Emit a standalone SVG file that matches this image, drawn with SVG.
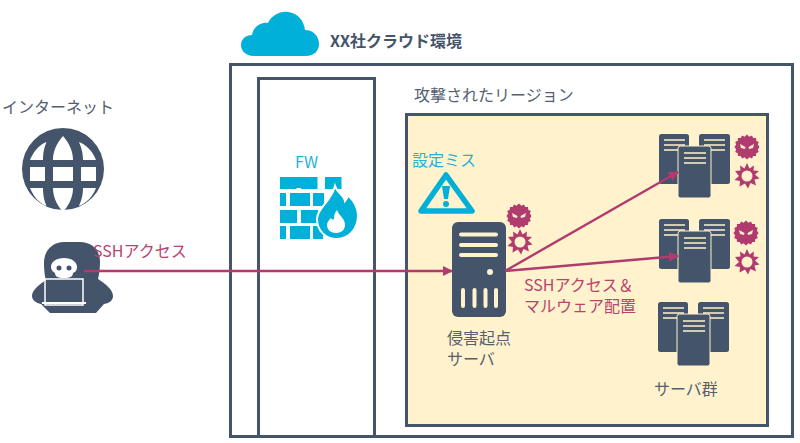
<svg xmlns="http://www.w3.org/2000/svg" xmlns:xlink="http://www.w3.org/1999/xlink" width="800" height="443" viewBox="0 0 800 443">
<style>
text{font-family:"Noto Sans CJK JP","Noto Sans",sans-serif}
.frame{fill:#fff;stroke:#44546a;stroke-width:3}
.dk{fill:#44546a}.cy{fill:#00b0d8}.mg{fill:#b13a6e}.cream{fill:#fff2cc}
.t{font-size:16px;fill:#55606f}
.c{font-size:16px;fill:#1fb4d8}
.m{font-size:16px;fill:#b9436f}
.conn{stroke:#b13a6e;stroke-width:2.4;fill:none;marker-end:url(#a)}
</style>
<defs>
<marker id="a" markerUnits="userSpaceOnUse" markerWidth="10" markerHeight="10" refX="9" refY="5" orient="auto"><path d="M0 0L10 5L0 10Z" fill="#b13a6e"/></marker>
<g id="rack">
<rect x="0" y="0" width="30" height="50" rx="2.5" class="dk"/><rect x="40" y="0" width="31" height="50" rx="2.5" class="dk"/>
<path d="M5 6H26M5 11H26M5 16H26M45 6H66M45 11H66M45 16H66" stroke="#fff2cc" stroke-width="1.6"/>
<rect x="19" y="12" width="33" height="52" rx="2.5" class="dk" stroke="#fff2cc" stroke-width="1"/>
<path d="M25 19H47M25 24H47M25 29H47" stroke="#fff2cc" stroke-width="1.6"/>
</g>
<g id="vface"><path d="M0-12.500L2.400-10.300 5-11.500 6.200-9 9-9 9.200-6.300 11.800-5 10.800-2.500 12.500 0 10.800 2.500 11.800 5 9.200 6.300 9 9 6.200 9 5 11.500 2.400 10.300 0 12.500-2.400 10.300-5 11.500-6.200 9-9 9-9.200 6.300-11.800 5-10.800 2.500-12.500 0-10.800-2.500-11.800-5-9.200-6.300-9-9-6.200-9-5-11.500-2.400-10.300Z" class="mg"/><path d="M-7-3L-1.500 0-2 2-6 1ZM7-3L1.500 0 2 2 6 1Z" fill="#fff2cc"/></g>
<g id="vburst"><path d="M0-13L2.500-7.500 7-10.500 6.500-5.500 12-5 8-1.500 12.500 2.500 7.500 3.500 9 9.500 3.500 7 1 12.500-2 7.500-7.500 10.500-7 5-12.500 4-8 0-12-5-6.500-5.500-7-10.500-2.500-7.500Z" class="mg"/><circle r="5.500" fill="#fff2cc"/></g>
</defs>

<g id="cloud-env">
<rect x="230.500" y="64.500" width="562" height="372" class="frame"/>
<path class="cy" d="M254 56C245 56 241 50 241 45C241 39 246 35 252 35C253 27 261 22 268 23C272 15 280 11 288 12C298 13 304 21 305 30C313 30 319 36 319 44C319 51 314 56 306 56Z"/>
<text x="330" y="47" font-size="16" font-weight="700" fill="#44546a">XX社クラウド環境</text>
</g>

<g id="fw">
<rect x="258.500" y="78.500" width="116" height="370" class="frame" style="height:358px"/>
<text x="295" y="168" class="c">FW</text>
<path class="cy" d="M280 177h26v12h-26zM301 177h0M301 177h0"/>
<g fill="#fff"><path d="M280 188h31v2h-31z"/></g>
<path class="cy" d="M280 177h16.500v12H280zM301 177h16.500v12H301zM325 177h16.500v12H325zM280 193h6v13h-6zM290 193h20v13h-20zM313 193h11v13h-11zM280 210h17v13h-17zM301 210h17v13h-17zM280 226h6v13h-6zM290 226h20v13h-20zM313 226h10v13h-10z"/>
<path d="M335 186c3 9 10 9 10 15 2-2 3-4 3-6 8 8 10 14 10 20 0 14-9 24-21 24-12 0-20-9-20-20 0-11 14-17 18-33z" fill="#00b0d8" stroke="#fff" stroke-width="2"/>
<path d="M337 210c2 6 8 8 8 15 0 5-4 8-9 8s-9-3-9-8c0-3 2-5 4-7 1 2 3 2 3 0 0-3 1-6 3-8z" fill="#fff"/>
</g>

<text x="414" y="101" class="t">攻撃されたリージョン</text>

<g id="region">
<rect x="406.500" y="114.500" width="361" height="311" fill="#fff2cc" stroke="#44546a" stroke-width="3"/>
<text x="412" y="166" class="c">設定ミス</text>
<path d="M446 175L472 211H421Z" fill="none" stroke="#00b0d8" stroke-width="5.500" stroke-linejoin="round"/>
<path d="M442 186h8l-2 13h-4z" class="cy"/><circle cx="446" cy="204" r="3" class="cy"/>
</g>

<g id="internet">
<text x="2" y="113" class="t">インターネット</text>
<circle cx="63" cy="169" r="41" class="dk"/>
<g fill="none" stroke="#fff" stroke-width="0"></g>
<path fill="#fff" d="M30 160h13c0-8 1.500-13 3.500-18-8 3-13 10-16.500 18zM53 160h20c0-8-3-16-10-24-7 8-10 16-10 24zM83 160h13c-3-8-9-15-17-18 2 5 4 10 4 18zM30 167h15v14H30zM53 167h20v14H53zM81 167h15v14H81zM30 188h13c0 8 1.500 13 3.500 18-8-3-13-10-16.500-18zM53 188h20c0 8-3 16-10 24-7-8-10-16-10-24zM83 188h13c-3 8-9 15-17 18 2-5 4-10 4-18z"/>
</g>

<g id="attacker">
<path class="dk" d="M64 243c-11 0-20 8-20 21 0 8 1 14 2 17-8 5-14 11-14 16 0 4 4 7 9 8l9 9h46l8-9c6-1 9-4 9-8 0-6-7-12-15-17 1-4 2-10 2-17 0-13-9-20-20-20z" transform="translate(0 -1)"/>
<path d="M64 258c-8 0-13 4-13 9 0 3 2 5 4 6 0 3 2 5 9 5s9-2 9-5c3-1 4-3 4-6 0-5-5-9-13-9z" fill="#fff"/>
<circle cx="59" cy="268" r="2.500" class="dk"/><circle cx="69" cy="268" r="2.500" class="dk"/>
<rect x="45" y="279" width="38" height="26" fill="#44546a" stroke="#fff" stroke-width="1.500"/>
<path d="M42 302h44v2H42z" fill="#fff"/>
</g>

<g id="origin-server">
<rect x="452" y="222" width="54" height="95" rx="6" class="dk"/>
<path d="M461 234.500H496M461 245H496M461 255H496" stroke="#fff2cc" stroke-width="4" stroke-linecap="round"/>
<circle cx="490" cy="272" r="3" fill="#fff2cc"/>
<path d="M463 290V306M474.500 290V306M485.500 290V306M496 290V306" stroke="#fff2cc" stroke-width="4" stroke-linecap="round"/>
<use xlink:href="#vface" href="#vface" transform="translate(519 216)"/>
<use xlink:href="#vburst" href="#vburst" transform="translate(520 242)"/>
<text x="447" y="344" class="t">侵害起点</text>
<text x="447" y="365" class="t">サーバ</text>
</g>

<g id="servers-a"><use href="#rack" x="659" y="134"/><use href="#vface" transform="translate(747 147)"/><use href="#vburst" transform="translate(747 176)"/></g>
<g id="servers-b"><use href="#rack" x="659" y="219"/><use href="#vface" transform="translate(746 233)"/><use href="#vburst" transform="translate(747 262)"/></g>
<g id="servers-c"><use href="#rack" x="658" y="302"/><text x="654" y="395" class="t">サーバ群</text></g>

<g id="connectors">
<path class="conn" d="M84 271H452"/>
<path class="conn" d="M505 271L678 172"/>
<path class="conn" d="M505 271L678 256"/>
</g>
<text x="93" y="257" class="m">SSHアクセス</text>
<text x="524" y="291" class="m">SSHアクセス＆</text>
<text x="524" y="312" class="m">マルウェア配置</text>
</svg>
